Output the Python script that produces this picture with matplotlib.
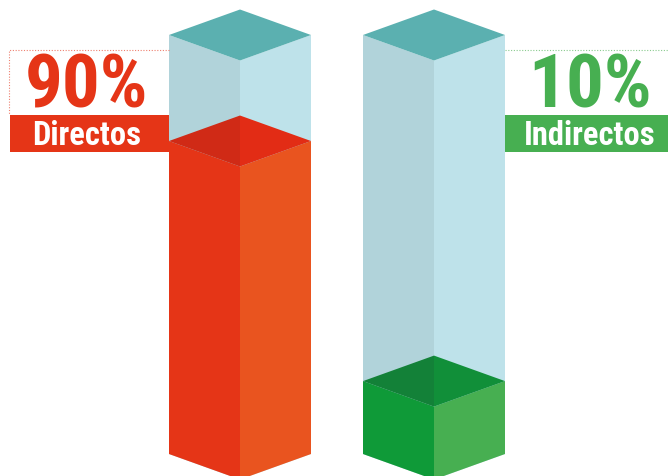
import matplotlib.pyplot as plt
from matplotlib import font_manager
from matplotlib.patches import Polygon, Rectangle

# data
labels = ['Directos', 'Indirectos']
values = [90, 10]
value_text = ['90%', '10%']
# fill level of each column as drawn in the picture (share of column height)
fill_levels = [0.747, 0.174]

# colours
side_cols = {'red': ('#E53517', '#E9541F', '#D02A16', '#E22C15'),
             'green': ('#0F9A38', '#47AF51', '#138138', '#118F39')}
bar_colors = ['red', 'green']
text_colors = ['#E53517', '#47AF51']
glass_left, glass_right, glass_top = '#B1D3DA', '#BEE2EA', '#5BB0B0'

# pick a condensed bold face
have = {f.name for f in font_manager.fontManager.ttflist}
prefs = ['Roboto Condensed', 'Fira Sans Condensed', 'IBM Plex Sans Condensed', 'Asap Condensed']
font = [n for n in prefs if n in have][:1] + ['DejaVu Sans']

W, H = 668, 477
fig = plt.figure(figsize=(W / 100, H / 100), dpi=100)
ax = fig.add_axes([0, 0, 1, 1])
ax.set_xlim(0, W)
ax.set_ylim(H, 0)
ax.axis('off')

centers = [240, 434]
hw, hd = 71, 25.5          # half width / half depth of the isometric box
y_top, y_bot = 36, 455     # side corners at top and bottom
col_h = y_bot - y_top


def box_faces(cx, yt, yb):
    left = [(cx - hw, yt), (cx, yt + hd), (cx, yb + hd), (cx - hw, yb)]
    right = [(cx, yt + hd), (cx + hw, yt), (cx + hw, yb), (cx, yb + hd)]
    top_l = [(cx, yt - hd), (cx, yt + hd), (cx - hw, yt)]
    top_r = [(cx, yt - hd), (cx + hw, yt), (cx, yt + hd)]
    return left, right, top_l, top_r


for cx, lvl, cname in zip(centers, fill_levels, bar_colors):
    # glass column
    left, right, tl, tr = box_faces(cx, y_top, y_bot)
    ax.add_patch(Polygon(left, closed=True, fc=glass_left, ec='none'))
    ax.add_patch(Polygon(right, closed=True, fc=glass_right, ec='none'))
    ax.add_patch(Polygon([tl[0], tr[1], tl[1], tl[2]], closed=True, fc=glass_top, ec='none'))

    # filled part
    yf = y_bot - col_h * lvl
    c_left, c_right, c_tl, c_tr = side_cols[cname]
    left, right, tl, tr = box_faces(cx, yf, y_bot)
    ax.add_patch(Polygon(left, closed=True, fc=c_left, ec='none'))
    ax.add_patch(Polygon(right, closed=True, fc=c_right, ec='none'))
    ax.add_patch(Polygon(tl, closed=True, fc=c_tl, ec='none'))
    ax.add_patch(Polygon(tr, closed=True, fc=c_tr, ec='none'))

# labels - left (Directos)
ax.add_patch(Rectangle((10, 116), 169 - 10, 37, fc=text_colors[0], ec='none'))
ax.plot([169, 9, 9], [51, 51, 116], ls=(0, (1, 1.5)), lw=0.8, color='#EE8070')
ax.text(86, 108, value_text[0], color=text_colors[0], fontsize=54, fontweight='bold',
        family=font, ha='center', va='baseline')
ax.text(87, 145, labels[0], color='white', fontsize=23.5, fontweight='bold',
        family=font, ha='center', va='baseline')

# labels - right (Indirectos)
ax.add_patch(Rectangle((505, 116), W - 505, 37, fc=text_colors[1], ec='none'))
ax.plot([505, W], [51, 51], ls=(0, (1, 1.5)), lw=0.8, color='#8ACB8F')
ax.text(590, 108, value_text[1], color=text_colors[1], fontsize=54, fontweight='bold',
        family=font, ha='center', va='baseline')
ax.text(590, 145, labels[1], color='white', fontsize=23.5, fontweight='bold',
        family=font, ha='center', va='baseline')

fig.savefig('out.png', dpi=100)
